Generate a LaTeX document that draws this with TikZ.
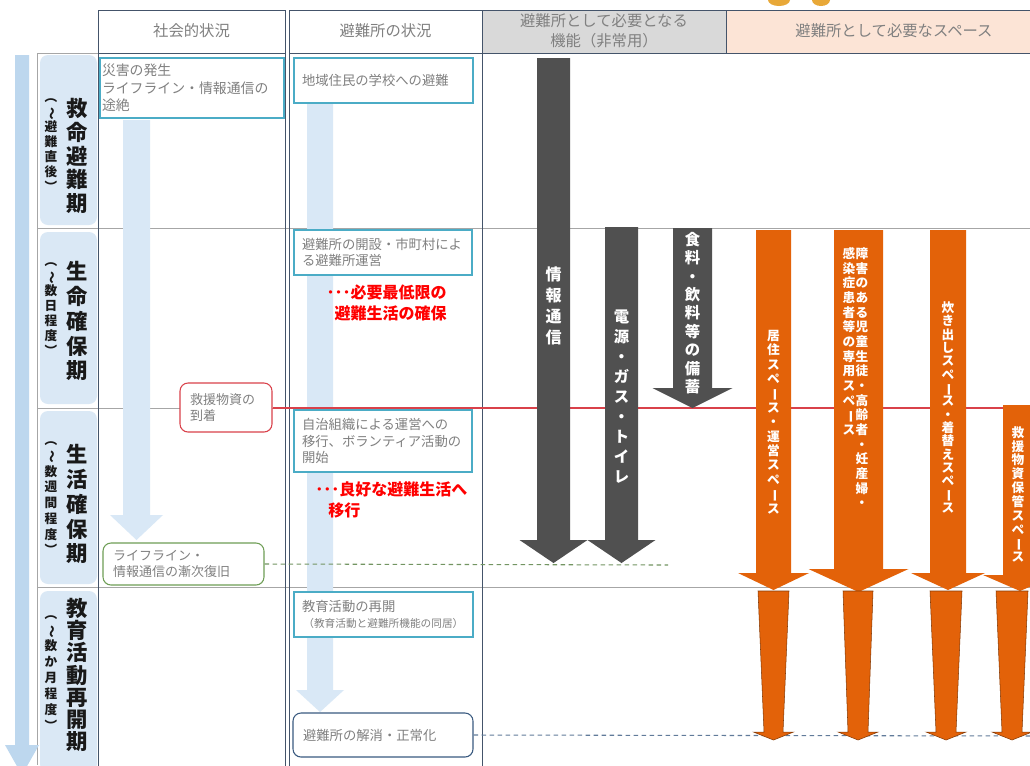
\documentclass[tikz,border=0pt]{standalone}
\usepackage{fontspec}
\usepackage{graphicx}
\setmainfont{Noto Sans CJK JP}
\makeatletter
\newcommand\vtxt[2]{\vtop{\baselineskip=#1\lineskiplimit=-50pt\lineskip=0pt\@tfor\vt@c:=#2\do{\hbox to 1.02em{\hss\vt@c\hss}}}}
\makeatother
\newcommand\vrot[1]{\rotatebox[origin=c]{-90}{#1}}
\definecolor{gridgray}{HTML}{A6A6A6}
\definecolor{framebl}{HTML}{44546A}
\definecolor{boxteal}{HTML}{4BACC6}
\definecolor{txtgray}{HTML}{808080}
\definecolor{hdrgray}{HTML}{D9D9D9}
\definecolor{hdrpeach}{HTML}{FCE4D6}
\definecolor{lblblue}{HTML}{DAE8F5}
\definecolor{arrblue}{HTML}{BDD7EE}
\definecolor{arrlight}{HTML}{D9E8F6}
\definecolor{darkarr}{HTML}{505050}
\definecolor{orng}{HTML}{E36209}
\definecolor{redln}{HTML}{D9414A}
\definecolor{grnbox}{HTML}{6E9E55}
\definecolor{endbox}{HTML}{3A5A80}
\definecolor{gold}{HTML}{E8A838}
\newcommand\downarr[7]{\fill[#1] ({#2-#4},#3) -- ({#2+#4},#3) -- ({#2+#4},#5) -- ({#2+#6},#5) -- (#2,#7) -- ({#2-#6},#5) -- ({#2-#4},#5) -- cycle;}
\newcommand\taperarr[7]{\filldraw[fill=orng,draw=orng!60!black,line width=0.4pt] ({#1-#3},#2) -- ({#1+#3},#2) -- ({#1+#4},#5) -- ({#1+#6},#5) -- (#1,#7) -- ({#1-#6},#5) -- ({#1-#4},#5) -- cycle;}
\begin{document}
\begin{tikzpicture}[x=0.75pt,y=-0.75pt,
  gbox/.style={draw=boxteal, fill=white, line width=0.8pt, text=txtgray, align=left, inner ysep=1pt, font=\fontsize{10}{12.5}\selectfont},
  hdr/.style={text=txtgray, font=\fontsize{11.5}{15}\selectfont, align=center, inner sep=0pt},
  redtxt/.style={text=red, font=\bfseries\fontsize{12}{15.75}\selectfont, inner sep=0pt},
  wtxt/.style={text=white, inner sep=0pt},
  biglbl/.style={text=black!90, font=\bfseries\fontsize{16}{16}\selectfont, inner sep=0pt},
  smalllbl/.style={text=black!90, font=\bfseries\fontsize{9.5}{9.5}\selectfont, inner sep=0pt},
  lblbox/.style={fill=lblblue, rounded corners=6pt},
  gridln/.style={draw=gridgray, line width=0.6pt},
  frameln/.style={draw=framebl, line width=0.7pt}
]
\useasboundingbox (0,0) rectangle (1030,765);
\clip (0,0) rectangle (1030,765);
\fill[white] (0,0) rectangle (1030,765);
% top partial icons
\fill[gold] (779,0) ellipse (11 and 6);
\fill[gold] (821,0) ellipse (9 and 6);
% header cells
\filldraw[fill=hdrgray, frameln] (482,10) rectangle (726,53);
\filldraw[fill=hdrpeach, frameln] (726,10) rectangle (1032,53);
% label boxes
\fill[lblblue, rounded corners=6pt] (40,55) rectangle (97,225);
\fill[lblblue, rounded corners=6pt] (40,232) rectangle (97,404);
\fill[lblblue, rounded corners=6pt] (40,411) rectangle (97,584);
\fill[lblblue, rounded corners=6pt] (40,591) rectangle (97,772);
% grid
\draw[gridln] (37,53) -- (98,53);
\draw[gridln] (37,53) -- (37,765);
\draw[gridln] (37,228) -- (1030,228);
\draw[gridln] (37,408) -- (1030,408);
\draw[gridln] (37,587) -- (1030,587);
\draw[frameln] (98,10) rectangle (285,767);
\draw[frameln] (289,10) rectangle (482,767);
\draw[frameln] (98,53) -- (285,53);
\draw[frameln] (289,53) -- (482,53);
% header texts
\node[hdr] (h1) at (191.5,31) {社会的状況};
\node[hdr] (h2) at (385.5,31) {避難所の状況};
\node[hdr] (h3) at (604,31) {避難所として必要となる\\機能（非常用）};
\node[hdr] (h4) at (894,31) {避難所として必要なスペース};
% period labels
\node[smalllbl] (s1) at (51,142) {\vtxt{11.2pt}{{\vrot{（}}{\vrot{〜}}避難直後{\vrot{）}}}};
\node[biglbl] (b1) at (77,156) {\vtxt{17.8pt}{救命避難期}};
\node[smalllbl] (s2) at (51,306) {\vtxt{11.2pt}{{\vrot{（}}{\vrot{〜}}数日程度{\vrot{）}}}};
\node[biglbl] (b2) at (77,321) {\vtxt{18.7pt}{生命確保期}};
\node[smalllbl] (s3) at (51,495) {\vtxt{11.8pt}{{\vrot{（}}{\vrot{〜}}数週間程度{\vrot{）}}}};
\node[biglbl] (b3) at (77,504) {\vtxt{18.7pt}{生活確保期}};
\node[smalllbl] (s4) at (51,670) {\vtxt{12pt}{{\vrot{（}}{\vrot{〜}}数か月程度{\vrot{）}}}};
\node[biglbl] (b4) at (77,675) {\vtxt{16.7pt}{教育活動再開期}};
% light blue arrows
\downarr{arrblue}{22}{55}{7}{745}{17}{775}
\downarr{arrlight}{136.5}{120}{13.5}{515}{26.5}{540}
\downarr{arrlight}{320}{103}{13}{690}{24}{712}
% text boxes
\node[gbox, minimum width=138pt, minimum height=45pt, text width=135pt, inner xsep=1.5pt, font=\fontsize{10.4}{13}\selectfont] (c1a) at (192,88) {災害の発生\\ライフライン・情報通信の\\途絶};
\node[gbox, minimum width=134.25pt, minimum height=33.75pt, text width=122.25pt, inner xsep=6pt] (c2a) at (383.5,80.5) {地域住民の学校への避難};
\node[gbox, minimum width=133.5pt, minimum height=33.75pt, text width=121.5pt, inner xsep=6pt] (c2b) at (383,252.5) {避難所の開設・市町村によ\\る避難所運営};
\node[gbox, minimum width=133.5pt, minimum height=46.5pt, text width=121.5pt, inner xsep=6pt] (c2c) at (383,441) {自治組織による運営への\\移行、ボランティア活動の\\開始};
\node[gbox, minimum width=134.25pt, minimum height=33.75pt, text width=122.25pt, inner xsep=6pt] (c2d) at (383.5,614.5) {教育活動の再開\\\hspace*{1pt}{\fontsize{8}{10}\selectfont （教育活動と避難所機能の同居）}};
\node[gbox, draw=endbox, rounded corners=6pt, minimum width=135pt, minimum height=33pt, text width=120pt, inner xsep=7.5pt] (c2e) at (383,735) {避難所の解消・正常化};
\node[gbox, draw=redln, rounded corners=6pt, minimum width=69pt, minimum height=36.75pt, text width=54pt, inner xsep=7.5pt, font=\fontsize{9.75}{12}\selectfont] (relief) at (226,407.5) {救援物資の\\到着};
\node[gbox, draw=grnbox, rounded corners=6pt, minimum width=120.75pt, minimum height=31.5pt, text width=105.75pt, inner xsep=7.5pt, font=\fontsize{9.75}{12.5}\selectfont] (lifeline) at (183.5,564) {ライフライン・\\情報通信の漸次復旧};
% red texts
\node[redtxt, align=right, anchor=east] (red1) at (447,302.5) {･･･必要最低限の\\避難生活の確保};
\node[redtxt, align=left, anchor=west] (red2) at (315,500) {･･･良好な避難生活へ\\\hspace*{9.75pt}移行};
% connectors
\coordinate (redEnd) at (1032,408);
\coordinate (grnEnd) at (668,565);
\coordinate (bluEnd) at (1032,736);
\draw[redln, line width=0.9pt] (relief.east |- redEnd) -- (redEnd);
\draw[grnbox!70!gray, line width=0.8pt, dash pattern=on 3.5pt off 2.5pt] (lifeline.east) -- (grnEnd);
\draw[endbox!80!white, line width=0.8pt, dash pattern=on 3.5pt off 2.5pt] (c2e.east) -- (bluEnd);
% dark arrows
\downarr{darkarr}{553.5}{58}{16.5}{540}{34}{563}
\downarr{darkarr}{621.5}{227}{16.5}{540}{34}{563}
\downarr{darkarr}{692.5}{228}{19.5}{388}{40}{408}
\node[wtxt, font=\bfseries\fontsize{12}{12}\selectfont] (f1) at (553.5,306) {\vtxt{15.75pt}{情報通信}};
\node[wtxt, font=\bfseries\fontsize{11.5}{11.5}\selectfont] (f2) at (621.5,397) {\vtxt{15pt}{電源・ガス・トイレ}};
\node[wtxt, font=\bfseries\fontsize{11.5}{11.5}\selectfont] (f3) at (692.5,313) {\vtxt{13.8pt}{食料・飲料等の備蓄}};
% orange arrows upper
\downarr{orng}{773.5}{230}{17.5}{573}{35.5}{590}
\downarr{orng}{858.5}{230}{24.5}{569}{50}{592}
\downarr{orng}{948}{230}{18}{573}{37}{590}
\downarr{orng}{1020}{405}{17}{575}{37}{591}
% orange arrows lower
\taperarr{773.5}{591}{15.5}{9.5}{732}{20}{740}
\taperarr{858}{591}{15}{10}{732}{20}{740}
\taperarr{946}{591}{16}{10}{732}{20}{740}
\taperarr{1012}{591}{16}{10}{732}{20}{740}
% orange texts
\node[wtxt, font=\bfseries\fontsize{9.5}{9.5}\selectfont] (o1) at (773.5,422) {\vtxt{10.8pt}{居住スペ{\vrot{ー}}ス・運営スペ{\vrot{ー}}ス}};
\node[wtxt, font=\bfseries\fontsize{9.5}{9.5}\selectfont] (o2) at (855.5,377.5) {\hbox{\vtxt{11pt}{感染症患者等の専用スペ{\vrot{ー}}ス}\vtxt{11pt}{障害のある児童生徒・高齢者・妊産婦・}}};
\node[wtxt, font=\bfseries\fontsize{9.5}{9.5}\selectfont] (o3) at (948,407.5) {\vtxt{10pt}{炊き出しスペ{\vrot{ー}}ス・着替えスペ{\vrot{ー}}ス}};
\node[wtxt, font=\bfseries\fontsize{9.5}{9.5}\selectfont] (o4) at (1018,494.5) {\vtxt{10.4pt}{救援物資保管スペ{\vrot{ー}}ス}};
\end{tikzpicture}
\end{document}
